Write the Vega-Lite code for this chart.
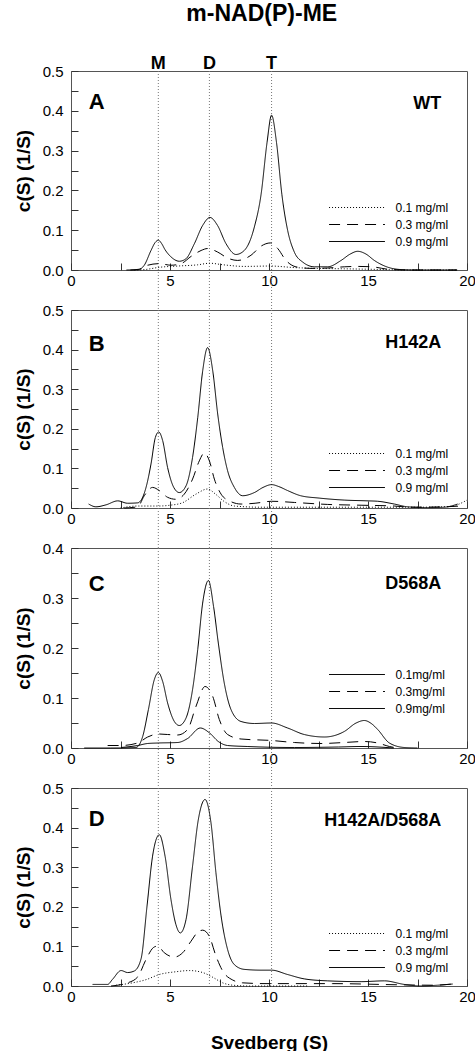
{
  "$schema": "https://vega.github.io/schema/vega-lite/v6.json",
  "padding": {"left": 13, "top": 2, "right": 0, "bottom": 0},
  "bounds": "flush",
  "spacing": 40,
  "title": {"text": "m-NAD(P)-ME", "fontSize": 23, "fontWeight": "bold", "font": "Liberation Sans", "color": "black", "anchor": "middle", "frame": "bounds", "offset": 29, "dx": 17},
  "config": {
    "font": "Liberation Sans",
    "view": {"stroke": "#555", "strokeWidth": 1},
    "axis": {"grid": false, "domain": false, "tickColor": "#333", "tickSize": -7, "labelFontSize": 15, "labelColor": "black", "labelFont": "Liberation Sans", "titleFontSize": 19, "titleFontWeight": "bold", "titleColor": "black", "titleFont": "Liberation Sans", "labelFlush": false, "labelOverlap": false},
    "axisX": {"labelPadding": 10, "titlePadding": 29},
    "axisY": {"labelPadding": 15, "titlePadding": 9},
    "legend": {"title": null, "orient": "none", "symbolType": "M-5,0H5", "symbolSize": 125, "symbolOffset": 21.5, "symbolStrokeWidth": 1, "symbolStrokeColor": "black", "labelFontSize": 12, "labelFont": "Liberation Sans", "labelColor": "black", "labelOffset": 32, "rowPadding": 4, "padding": 0, "legendX": 258}
  },
  "datasets": {
    "markers": [{"s": 4.41, "lab": "M"}, {"s": 6.99, "lab": "D"}, {"s": 10.13, "lab": "T"}],
    "curves": [
      {"p":"A","c":"0.9 mg/ml","s":2.8,"v":0},{"p":"A","c":"0.9 mg/ml","s":3.4,"v":0.001},{"p":"A","c":"0.9 mg/ml","s":3.7,"v":0.012},{"p":"A","c":"0.9 mg/ml","s":4.04,"v":0.049},{"p":"A","c":"0.9 mg/ml","s":4.25,"v":0.069},{"p":"A","c":"0.9 mg/ml","s":4.41,"v":0.075},{"p":"A","c":"0.9 mg/ml","s":4.57,"v":0.067},{"p":"A","c":"0.9 mg/ml","s":4.75,"v":0.051},{"p":"A","c":"0.9 mg/ml","s":5.05,"v":0.033},{"p":"A","c":"0.9 mg/ml","s":5.47,"v":0.022},{"p":"A","c":"0.9 mg/ml","s":5.8,"v":0.028},{"p":"A","c":"0.9 mg/ml","s":6.23,"v":0.066},{"p":"A","c":"0.9 mg/ml","s":6.65,"v":0.112},{"p":"A","c":"0.9 mg/ml","s":7.02,"v":0.132},{"p":"A","c":"0.9 mg/ml","s":7.4,"v":0.112},{"p":"A","c":"0.9 mg/ml","s":7.83,"v":0.066},{"p":"A","c":"0.9 mg/ml","s":8.33,"v":0.039},{"p":"A","c":"0.9 mg/ml","s":8.75,"v":0.049},{"p":"A","c":"0.9 mg/ml","s":9.26,"v":0.108},{"p":"A","c":"0.9 mg/ml","s":9.6,"v":0.19},{"p":"A","c":"0.9 mg/ml","s":9.9,"v":0.32},{"p":"A","c":"0.9 mg/ml","s":10.13,"v":0.389},{"p":"A","c":"0.9 mg/ml","s":10.38,"v":0.32},{"p":"A","c":"0.9 mg/ml","s":10.65,"v":0.19},{"p":"A","c":"0.9 mg/ml","s":10.94,"v":0.1},{"p":"A","c":"0.9 mg/ml","s":11.28,"v":0.045},{"p":"A","c":"0.9 mg/ml","s":11.7,"v":0.02},{"p":"A","c":"0.9 mg/ml","s":12.3,"v":0.008},{"p":"A","c":"0.9 mg/ml","s":12.96,"v":0.008},{"p":"A","c":"0.9 mg/ml","s":13.64,"v":0.024},{"p":"A","c":"0.9 mg/ml","s":14.1,"v":0.04},{"p":"A","c":"0.9 mg/ml","s":14.48,"v":0.047},{"p":"A","c":"0.9 mg/ml","s":14.9,"v":0.04},{"p":"A","c":"0.9 mg/ml","s":15.32,"v":0.024},{"p":"A","c":"0.9 mg/ml","s":16,"v":0.007},{"p":"A","c":"0.9 mg/ml","s":16.7,"v":0.001},{"p":"A","c":"0.9 mg/ml","s":17.5,"v":0},{"p":"A","c":"0.9 mg/ml","s":19.5,"v":0},
      {"p":"A","c":"0.3 mg/ml","s":3.0,"v":0},{"p":"A","c":"0.3 mg/ml","s":3.45,"v":0.002},{"p":"A","c":"0.3 mg/ml","s":3.87,"v":0.012},{"p":"A","c":"0.3 mg/ml","s":4.46,"v":0.016},{"p":"A","c":"0.3 mg/ml","s":5.05,"v":0.012},{"p":"A","c":"0.3 mg/ml","s":5.56,"v":0.016},{"p":"A","c":"0.3 mg/ml","s":6.06,"v":0.034},{"p":"A","c":"0.3 mg/ml","s":6.57,"v":0.049},{"p":"A","c":"0.3 mg/ml","s":6.9,"v":0.054},{"p":"A","c":"0.3 mg/ml","s":7.41,"v":0.045},{"p":"A","c":"0.3 mg/ml","s":7.91,"v":0.03},{"p":"A","c":"0.3 mg/ml","s":8.42,"v":0.024},{"p":"A","c":"0.3 mg/ml","s":9.09,"v":0.037},{"p":"A","c":"0.3 mg/ml","s":9.6,"v":0.06},{"p":"A","c":"0.3 mg/ml","s":10.07,"v":0.068},{"p":"A","c":"0.3 mg/ml","s":10.44,"v":0.054},{"p":"A","c":"0.3 mg/ml","s":10.86,"v":0.024},{"p":"A","c":"0.3 mg/ml","s":11.36,"v":0.008},{"p":"A","c":"0.3 mg/ml","s":12.12,"v":0.004},{"p":"A","c":"0.3 mg/ml","s":12.96,"v":0.005},{"p":"A","c":"0.3 mg/ml","s":13.8,"v":0.008},{"p":"A","c":"0.3 mg/ml","s":14.5,"v":0.009},{"p":"A","c":"0.3 mg/ml","s":15.2,"v":0.008},{"p":"A","c":"0.3 mg/ml","s":16.0,"v":0.002},{"p":"A","c":"0.3 mg/ml","s":17,"v":0},{"p":"A","c":"0.3 mg/ml","s":19.5,"v":0},
      {"p":"A","c":"0.1 mg/ml","s":3.2,"v":0},{"p":"A","c":"0.1 mg/ml","s":3.7,"v":0.001},{"p":"A","c":"0.1 mg/ml","s":4.5,"v":0.007},{"p":"A","c":"0.1 mg/ml","s":5.4,"v":0.01},{"p":"A","c":"0.1 mg/ml","s":6.4,"v":0.013},{"p":"A","c":"0.1 mg/ml","s":7.0,"v":0.017},{"p":"A","c":"0.1 mg/ml","s":7.7,"v":0.013},{"p":"A","c":"0.1 mg/ml","s":8.75,"v":0.009},{"p":"A","c":"0.1 mg/ml","s":10.07,"v":0.01},{"p":"A","c":"0.1 mg/ml","s":11.3,"v":0.006},{"p":"A","c":"0.1 mg/ml","s":12.5,"v":0.004},{"p":"A","c":"0.1 mg/ml","s":13.8,"v":0.003},{"p":"A","c":"0.1 mg/ml","s":15,"v":0.002},{"p":"A","c":"0.1 mg/ml","s":17.2,"v":0},{"p":"A","c":"0.1 mg/ml","s":19.5,"v":0},
      {"p":"B","c":"0.9 mg/ml","s":0.89,"v":0.01},{"p":"B","c":"0.9 mg/ml","s":1.26,"v":0.003},{"p":"B","c":"0.9 mg/ml","s":1.77,"v":0.008},{"p":"B","c":"0.9 mg/ml","s":2.36,"v":0.018},{"p":"B","c":"0.9 mg/ml","s":2.86,"v":0.012},{"p":"B","c":"0.9 mg/ml","s":3.37,"v":0.013},{"p":"B","c":"0.9 mg/ml","s":3.79,"v":0.052},{"p":"B","c":"0.9 mg/ml","s":4.04,"v":0.111},{"p":"B","c":"0.9 mg/ml","s":4.26,"v":0.178},{"p":"B","c":"0.9 mg/ml","s":4.43,"v":0.192},{"p":"B","c":"0.9 mg/ml","s":4.63,"v":0.17},{"p":"B","c":"0.9 mg/ml","s":4.88,"v":0.102},{"p":"B","c":"0.9 mg/ml","s":5.19,"v":0.052},{"p":"B","c":"0.9 mg/ml","s":5.47,"v":0.039},{"p":"B","c":"0.9 mg/ml","s":5.81,"v":0.056},{"p":"B","c":"0.9 mg/ml","s":6.14,"v":0.128},{"p":"B","c":"0.9 mg/ml","s":6.4,"v":0.228},{"p":"B","c":"0.9 mg/ml","s":6.65,"v":0.346},{"p":"B","c":"0.9 mg/ml","s":6.9,"v":0.405},{"p":"B","c":"0.9 mg/ml","s":7.16,"v":0.346},{"p":"B","c":"0.9 mg/ml","s":7.41,"v":0.237},{"p":"B","c":"0.9 mg/ml","s":7.66,"v":0.153},{"p":"B","c":"0.9 mg/ml","s":7.91,"v":0.094},{"p":"B","c":"0.9 mg/ml","s":8.25,"v":0.052},{"p":"B","c":"0.9 mg/ml","s":8.67,"v":0.031},{"p":"B","c":"0.9 mg/ml","s":9.26,"v":0.039},{"p":"B","c":"0.9 mg/ml","s":9.7,"v":0.052},{"p":"B","c":"0.9 mg/ml","s":10.13,"v":0.059},{"p":"B","c":"0.9 mg/ml","s":10.5,"v":0.054},{"p":"B","c":"0.9 mg/ml","s":10.94,"v":0.044},{"p":"B","c":"0.9 mg/ml","s":11.6,"v":0.031},{"p":"B","c":"0.9 mg/ml","s":12.54,"v":0.025},{"p":"B","c":"0.9 mg/ml","s":13.8,"v":0.02},{"p":"B","c":"0.9 mg/ml","s":15.0,"v":0.018},{"p":"B","c":"0.9 mg/ml","s":15.49,"v":0.017},{"p":"B","c":"0.9 mg/ml","s":16.33,"v":0.01},{"p":"B","c":"0.9 mg/ml","s":17.0,"v":0.003},{"p":"B","c":"0.9 mg/ml","s":18.0,"v":0.001},{"p":"B","c":"0.9 mg/ml","s":18.85,"v":0.002},{"p":"B","c":"0.9 mg/ml","s":19.53,"v":0.01},
      {"p":"B","c":"0.3 mg/ml","s":2.69,"v":0},{"p":"B","c":"0.3 mg/ml","s":3.37,"v":0.003},{"p":"B","c":"0.3 mg/ml","s":3.7,"v":0.031},{"p":"B","c":"0.3 mg/ml","s":4.12,"v":0.052},{"p":"B","c":"0.3 mg/ml","s":4.46,"v":0.044},{"p":"B","c":"0.3 mg/ml","s":4.88,"v":0.027},{"p":"B","c":"0.3 mg/ml","s":5.3,"v":0.022},{"p":"B","c":"0.3 mg/ml","s":5.72,"v":0.035},{"p":"B","c":"0.3 mg/ml","s":6.14,"v":0.073},{"p":"B","c":"0.3 mg/ml","s":6.48,"v":0.119},{"p":"B","c":"0.3 mg/ml","s":6.73,"v":0.139},{"p":"B","c":"0.3 mg/ml","s":6.99,"v":0.119},{"p":"B","c":"0.3 mg/ml","s":7.24,"v":0.073},{"p":"B","c":"0.3 mg/ml","s":7.58,"v":0.035},{"p":"B","c":"0.3 mg/ml","s":8.0,"v":0.018},{"p":"B","c":"0.3 mg/ml","s":8.59,"v":0.01},{"p":"B","c":"0.3 mg/ml","s":9.3,"v":0.012},{"p":"B","c":"0.3 mg/ml","s":10.13,"v":0.017},{"p":"B","c":"0.3 mg/ml","s":11.28,"v":0.014},{"p":"B","c":"0.3 mg/ml","s":12.96,"v":0.009},{"p":"B","c":"0.3 mg/ml","s":14.65,"v":0.007},{"p":"B","c":"0.3 mg/ml","s":16.33,"v":0.005},{"p":"B","c":"0.3 mg/ml","s":17.17,"v":0.002},{"p":"B","c":"0.3 mg/ml","s":18.85,"v":0.003},{"p":"B","c":"0.3 mg/ml","s":19.7,"v":0.005},
      {"p":"B","c":"0.1 mg/ml","s":2.5,"v":0},{"p":"B","c":"0.1 mg/ml","s":3.37,"v":0.005},{"p":"B","c":"0.1 mg/ml","s":4.4,"v":0.005},{"p":"B","c":"0.1 mg/ml","s":5.0,"v":0.007},{"p":"B","c":"0.1 mg/ml","s":5.62,"v":0.013},{"p":"B","c":"0.1 mg/ml","s":6.31,"v":0.035},{"p":"B","c":"0.1 mg/ml","s":6.9,"v":0.048},{"p":"B","c":"0.1 mg/ml","s":7.3,"v":0.035},{"p":"B","c":"0.1 mg/ml","s":7.75,"v":0.016},{"p":"B","c":"0.1 mg/ml","s":8.25,"v":0.005},{"p":"B","c":"0.1 mg/ml","s":9.6,"v":0.002},{"p":"B","c":"0.1 mg/ml","s":12,"v":0.002},{"p":"B","c":"0.1 mg/ml","s":15,"v":0.002},{"p":"B","c":"0.1 mg/ml","s":17.5,"v":0.002},{"p":"B","c":"0.1 mg/ml","s":19.2,"v":0.004},{"p":"B","c":"0.1 mg/ml","s":19.6,"v":0.01},{"p":"B","c":"0.1 mg/ml","s":20,"v":0.02},
      {"p":"C","c":"0.9mg/ml","s":0.67,"v":0},{"p":"C","c":"0.9mg/ml","s":2,"v":0},{"p":"C","c":"0.9mg/ml","s":3.28,"v":0.001},{"p":"C","c":"0.9mg/ml","s":3.62,"v":0.023},{"p":"C","c":"0.9mg/ml","s":3.91,"v":0.077},{"p":"C","c":"0.9mg/ml","s":4.21,"v":0.137},{"p":"C","c":"0.9mg/ml","s":4.41,"v":0.151},{"p":"C","c":"0.9mg/ml","s":4.63,"v":0.133},{"p":"C","c":"0.9mg/ml","s":4.88,"v":0.09},{"p":"C","c":"0.9mg/ml","s":5.22,"v":0.053},{"p":"C","c":"0.9mg/ml","s":5.47,"v":0.045},{"p":"C","c":"0.9mg/ml","s":5.81,"v":0.06},{"p":"C","c":"0.9mg/ml","s":6.14,"v":0.117},{"p":"C","c":"0.9mg/ml","s":6.4,"v":0.197},{"p":"C","c":"0.9mg/ml","s":6.65,"v":0.29},{"p":"C","c":"0.9mg/ml","s":6.94,"v":0.335},{"p":"C","c":"0.9mg/ml","s":7.2,"v":0.283},{"p":"C","c":"0.9mg/ml","s":7.44,"v":0.21},{"p":"C","c":"0.9mg/ml","s":7.74,"v":0.13},{"p":"C","c":"0.9mg/ml","s":8.08,"v":0.077},{"p":"C","c":"0.9mg/ml","s":8.59,"v":0.053},{"p":"C","c":"0.9mg/ml","s":9.26,"v":0.049},{"p":"C","c":"0.9mg/ml","s":10.13,"v":0.05},{"p":"C","c":"0.9mg/ml","s":10.94,"v":0.04},{"p":"C","c":"0.9mg/ml","s":11.78,"v":0.027},{"p":"C","c":"0.9mg/ml","s":12.8,"v":0.022},{"p":"C","c":"0.9mg/ml","s":13.8,"v":0.033},{"p":"C","c":"0.9mg/ml","s":14.4,"v":0.05},{"p":"C","c":"0.9mg/ml","s":14.81,"v":0.055},{"p":"C","c":"0.9mg/ml","s":15.2,"v":0.048},{"p":"C","c":"0.9mg/ml","s":15.49,"v":0.037},{"p":"C","c":"0.9mg/ml","s":16.08,"v":0.01},{"p":"C","c":"0.9mg/ml","s":16.83,"v":0.001},{"p":"C","c":"0.9mg/ml","s":17.5,"v":0},
      {"p":"C","c":"0.3mg/ml","s":1.85,"v":0.005},{"p":"C","c":"0.3mg/ml","s":2.53,"v":0.005},{"p":"C","c":"0.3mg/ml","s":3.37,"v":0.01},{"p":"C","c":"0.3mg/ml","s":3.87,"v":0.022},{"p":"C","c":"0.3mg/ml","s":4.41,"v":0.028},{"p":"C","c":"0.3mg/ml","s":4.88,"v":0.027},{"p":"C","c":"0.3mg/ml","s":5.39,"v":0.026},{"p":"C","c":"0.3mg/ml","s":5.89,"v":0.037},{"p":"C","c":"0.3mg/ml","s":6.31,"v":0.083},{"p":"C","c":"0.3mg/ml","s":6.77,"v":0.123},{"p":"C","c":"0.3mg/ml","s":7.16,"v":0.103},{"p":"C","c":"0.3mg/ml","s":7.49,"v":0.057},{"p":"C","c":"0.3mg/ml","s":7.91,"v":0.027},{"p":"C","c":"0.3mg/ml","s":8.59,"v":0.018},{"p":"C","c":"0.3mg/ml","s":10.13,"v":0.015},{"p":"C","c":"0.3mg/ml","s":11.28,"v":0.011},{"p":"C","c":"0.3mg/ml","s":12.63,"v":0.009},{"p":"C","c":"0.3mg/ml","s":13.8,"v":0.011},{"p":"C","c":"0.3mg/ml","s":14.81,"v":0.013},{"p":"C","c":"0.3mg/ml","s":15.49,"v":0.01},{"p":"C","c":"0.3mg/ml","s":16.08,"v":0.003},{"p":"C","c":"0.3mg/ml","s":16.5,"v":0},
      {"p":"C","c":"0.1mg/ml","s":2.53,"v":0.001},{"p":"C","c":"0.1mg/ml","s":3.37,"v":0.005},{"p":"C","c":"0.1mg/ml","s":3.87,"v":0.009},{"p":"C","c":"0.1mg/ml","s":4.41,"v":0.01},{"p":"C","c":"0.1mg/ml","s":5.39,"v":0.011},{"p":"C","c":"0.1mg/ml","s":5.89,"v":0.019},{"p":"C","c":"0.1mg/ml","s":6.53,"v":0.04},{"p":"C","c":"0.1mg/ml","s":7.0,"v":0.03},{"p":"C","c":"0.1mg/ml","s":7.44,"v":0.013},{"p":"C","c":"0.1mg/ml","s":7.91,"v":0.005},{"p":"C","c":"0.1mg/ml","s":8.9,"v":0.003},{"p":"C","c":"0.1mg/ml","s":11.28,"v":0.001},{"p":"C","c":"0.1mg/ml","s":13.5,"v":0.002},{"p":"C","c":"0.1mg/ml","s":14.65,"v":0.003},{"p":"C","c":"0.1mg/ml","s":16.3,"v":0},
      {"p":"D","c":"0.9 mg/ml","s":1.09,"v":0.004},{"p":"D","c":"0.9 mg/ml","s":1.85,"v":0.004},{"p":"D","c":"0.9 mg/ml","s":2.1,"v":0.017},{"p":"D","c":"0.9 mg/ml","s":2.53,"v":0.039},{"p":"D","c":"0.9 mg/ml","s":2.86,"v":0.034},{"p":"D","c":"0.9 mg/ml","s":3.2,"v":0.038},{"p":"D","c":"0.9 mg/ml","s":3.54,"v":0.069},{"p":"D","c":"0.9 mg/ml","s":3.84,"v":0.202},{"p":"D","c":"0.9 mg/ml","s":4.12,"v":0.328},{"p":"D","c":"0.9 mg/ml","s":4.46,"v":0.382},{"p":"D","c":"0.9 mg/ml","s":4.75,"v":0.328},{"p":"D","c":"0.9 mg/ml","s":5.05,"v":0.218},{"p":"D","c":"0.9 mg/ml","s":5.3,"v":0.155},{"p":"D","c":"0.9 mg/ml","s":5.52,"v":0.134},{"p":"D","c":"0.9 mg/ml","s":5.81,"v":0.168},{"p":"D","c":"0.9 mg/ml","s":6.14,"v":0.303},{"p":"D","c":"0.9 mg/ml","s":6.43,"v":0.42},{"p":"D","c":"0.9 mg/ml","s":6.77,"v":0.471},{"p":"D","c":"0.9 mg/ml","s":7.07,"v":0.412},{"p":"D","c":"0.9 mg/ml","s":7.32,"v":0.286},{"p":"D","c":"0.9 mg/ml","s":7.58,"v":0.177},{"p":"D","c":"0.9 mg/ml","s":7.91,"v":0.092},{"p":"D","c":"0.9 mg/ml","s":8.25,"v":0.054},{"p":"D","c":"0.9 mg/ml","s":8.75,"v":0.042},{"p":"D","c":"0.9 mg/ml","s":9.6,"v":0.04},{"p":"D","c":"0.9 mg/ml","s":10.13,"v":0.04},{"p":"D","c":"0.9 mg/ml","s":10.94,"v":0.029},{"p":"D","c":"0.9 mg/ml","s":11.78,"v":0.018},{"p":"D","c":"0.9 mg/ml","s":12.96,"v":0.013},{"p":"D","c":"0.9 mg/ml","s":14.65,"v":0.011},{"p":"D","c":"0.9 mg/ml","s":15.83,"v":0.013},{"p":"D","c":"0.9 mg/ml","s":16.83,"v":0.004},{"p":"D","c":"0.9 mg/ml","s":17.68,"v":0},{"p":"D","c":"0.9 mg/ml","s":18.52,"v":0.002},{"p":"D","c":"0.9 mg/ml","s":19.28,"v":0.005},
      {"p":"D","c":"0.3 mg/ml","s":2.02,"v":0},{"p":"D","c":"0.3 mg/ml","s":2.86,"v":0.008},{"p":"D","c":"0.3 mg/ml","s":3.37,"v":0.023},{"p":"D","c":"0.3 mg/ml","s":3.79,"v":0.067},{"p":"D","c":"0.3 mg/ml","s":4.16,"v":0.097},{"p":"D","c":"0.3 mg/ml","s":4.38,"v":0.101},{"p":"D","c":"0.3 mg/ml","s":4.71,"v":0.084},{"p":"D","c":"0.3 mg/ml","s":5.22,"v":0.073},{"p":"D","c":"0.3 mg/ml","s":5.64,"v":0.084},{"p":"D","c":"0.3 mg/ml","s":6.06,"v":0.113},{"p":"D","c":"0.3 mg/ml","s":6.4,"v":0.136},{"p":"D","c":"0.3 mg/ml","s":6.65,"v":0.141},{"p":"D","c":"0.3 mg/ml","s":6.98,"v":0.126},{"p":"D","c":"0.3 mg/ml","s":7.32,"v":0.076},{"p":"D","c":"0.3 mg/ml","s":7.66,"v":0.038},{"p":"D","c":"0.3 mg/ml","s":8.17,"v":0.015},{"p":"D","c":"0.3 mg/ml","s":8.67,"v":0.008},{"p":"D","c":"0.3 mg/ml","s":9.85,"v":0.006},{"p":"D","c":"0.3 mg/ml","s":13.2,"v":0.006},{"p":"D","c":"0.3 mg/ml","s":16.6,"v":0.003},{"p":"D","c":"0.3 mg/ml","s":18.27,"v":0.002},{"p":"D","c":"0.3 mg/ml","s":19.28,"v":0.005},
      {"p":"D","c":"0.1 mg/ml","s":2.27,"v":0.002},{"p":"D","c":"0.1 mg/ml","s":3.11,"v":0.008},{"p":"D","c":"0.1 mg/ml","s":3.79,"v":0.016},{"p":"D","c":"0.1 mg/ml","s":4.46,"v":0.029},{"p":"D","c":"0.1 mg/ml","s":5.3,"v":0.036},{"p":"D","c":"0.1 mg/ml","s":5.98,"v":0.039},{"p":"D","c":"0.1 mg/ml","s":6.65,"v":0.034},{"p":"D","c":"0.1 mg/ml","s":7.16,"v":0.022},{"p":"D","c":"0.1 mg/ml","s":7.66,"v":0.008},{"p":"D","c":"0.1 mg/ml","s":8.17,"v":0.002},{"p":"D","c":"0.1 mg/ml","s":9,"v":0},{"p":"D","c":"0.1 mg/ml","s":12,"v":0}
    ]
  },
  "resolve": {"scale": {"x": "independent", "y": "independent", "strokeDash": "independent"}, "legend": {"strokeDash": "independent"}},
  "vconcat": [
    {
      "width": 396, "height": 199,
      "resolve": {"axis": {"y": "independent"}},
      "layer": [
        {
          "data": {"name": "markers"},
          "mark": {"type": "rule", "color": "#777", "strokeDash": [1, 2], "strokeWidth": 1, "clip": false},
          "encoding": {
            "x": {"field": "s", "type": "quantitative", "scale": {"domain": [0, 20], "nice": false}, "axis": {"title": null, "values": [0, 2.5, 5, 7.5, 10, 12.5, 15, 17.5, 20], "labelExpr": "datum.value % 5 == 0 ? format(datum.value, 'd') : ''"}},
            "y": {"datum": 0.5, "type": "quantitative", "scale": {"domain": [0, 0.5], "nice": false}, "axis": {"orient": "left", "title": null, "labels": false, "values": [0.05, 0.15, 0.25, 0.35, 0.45]}},
            "y2": {"datum": -0.1005}
          }
        },
        {
          "data": {"name": "curves"},
          "transform": [{"filter": "datum.p == 'A'"}],
          "mark": {"type": "line", "interpolate": "monotone", "color": "black", "strokeWidth": 1},
          "encoding": {
            "x": {"field": "s", "type": "quantitative", "scale": {"domain": [0, 20], "nice": false}, "axis": {"title": null, "values": [0, 2.5, 5, 7.5, 10, 12.5, 15, 17.5, 20], "labelExpr": "datum.value % 5 == 0 ? format(datum.value, 'd') : ''"}},
            "y": {"field": "v", "type": "quantitative", "scale": {"domain": [0, 0.5], "nice": false}, "axis": {"orient": "left", "title": "c(S) (1/S)", "values": [0, 0.1, 0.2, 0.3, 0.4, 0.5], "format": ".1f"}},
            "strokeDash": {"field": "c", "type": "nominal", "scale": {"domain": ["0.1 mg/ml", "0.3 mg/ml", "0.9 mg/ml"], "range": [[1, 2], [11, 7], [1, 0]]}, "legend": {"legendY": 130}}
          }
        },
        {
          "data": {"name": "markers"},
          "mark": {"type": "text", "fontSize": 18, "fontWeight": "bold", "align": "center", "baseline": "alphabetic", "color": "black"},
          "encoding": {"x": {"field": "s", "type": "quantitative"}, "y": {"datum": 0.505, "axis": null}, "text": {"field": "lab"}}
        },
        {
          "data": {"values": [{"t": "A"}]},
          "mark": {"type": "text", "fontSize": 22, "fontWeight": "bold", "align": "left", "baseline": "alphabetic", "color": "black"},
          "encoding": {"x": {"datum": 0.9}, "y": {"datum": 0.405, "axis": null}, "text": {"field": "t"}}
        },
        {
          "data": {"values": [{"t": "WT"}]},
          "mark": {"type": "text", "fontSize": 18, "fontWeight": "bold", "align": "right", "baseline": "alphabetic", "color": "black"},
          "encoding": {"x": {"datum": 18.7}, "y": {"datum": 0.405, "axis": null}, "text": {"field": "t"}}
        }
      ]
    },
    {
      "width": 396, "height": 198,
      "resolve": {"axis": {"y": "independent"}},
      "layer": [
        {
          "data": {"name": "markers"},
          "mark": {"type": "rule", "color": "#777", "strokeDash": [1, 2], "strokeWidth": 1, "clip": false},
          "encoding": {
            "x": {"field": "s", "type": "quantitative", "scale": {"domain": [0, 20], "nice": false}, "axis": {"title": null, "values": [0, 2.5, 5, 7.5, 10, 12.5, 15, 17.5, 20], "labelExpr": "datum.value % 5 == 0 ? format(datum.value, 'd') : ''"}},
            "y": {"datum": 0.5, "type": "quantitative", "scale": {"domain": [0, 0.5], "nice": false}, "axis": {"orient": "left", "title": null, "labels": false, "values": [0.05, 0.15, 0.25, 0.35, 0.45]}},
            "y2": {"datum": -0.101}
          }
        },
        {
          "data": {"name": "curves"},
          "transform": [{"filter": "datum.p == 'B'"}],
          "mark": {"type": "line", "interpolate": "monotone", "color": "black", "strokeWidth": 1},
          "encoding": {
            "x": {"field": "s", "type": "quantitative", "scale": {"domain": [0, 20], "nice": false}, "axis": {"title": null, "values": [0, 2.5, 5, 7.5, 10, 12.5, 15, 17.5, 20], "labelExpr": "datum.value % 5 == 0 ? format(datum.value, 'd') : ''"}},
            "y": {"field": "v", "type": "quantitative", "scale": {"domain": [0, 0.5], "nice": false}, "axis": {"orient": "left", "title": "c(S) (1/S)", "values": [0, 0.1, 0.2, 0.3, 0.4, 0.5], "format": ".1f"}},
            "strokeDash": {"field": "c", "type": "nominal", "scale": {"domain": ["0.1 mg/ml", "0.3 mg/ml", "0.9 mg/ml"], "range": [[1, 2], [11, 7], [1, 0]]}, "legend": {"legendY": 137}}
          }
        },
        {
          "data": {"values": [{"t": "B"}]},
          "mark": {"type": "text", "fontSize": 22, "fontWeight": "bold", "align": "left", "baseline": "alphabetic", "color": "black"},
          "encoding": {"x": {"datum": 0.9}, "y": {"datum": 0.397, "axis": null}, "text": {"field": "t"}}
        },
        {
          "data": {"values": [{"t": "H142A"}]},
          "mark": {"type": "text", "fontSize": 18, "fontWeight": "bold", "align": "right", "baseline": "alphabetic", "color": "black"},
          "encoding": {"x": {"datum": 18.7}, "y": {"datum": 0.405, "axis": null}, "text": {"field": "t"}}
        }
      ]
    },
    {
      "width": 396, "height": 200,
      "resolve": {"axis": {"y": "independent"}},
      "layer": [
        {
          "data": {"name": "markers"},
          "mark": {"type": "rule", "color": "#777", "strokeDash": [1, 2], "strokeWidth": 1, "clip": false},
          "encoding": {
            "x": {"field": "s", "type": "quantitative", "scale": {"domain": [0, 20], "nice": false}, "axis": {"title": null, "values": [0, 2.5, 5, 7.5, 10, 12.5, 15, 17.5, 20], "labelExpr": "datum.value % 5 == 0 ? format(datum.value, 'd') : ''"}},
            "y": {"datum": 0.4, "type": "quantitative", "scale": {"domain": [0, 0.4], "nice": false}, "axis": {"orient": "left", "title": null, "labels": false, "values": [0.05, 0.15, 0.25, 0.35]}},
            "y2": {"datum": -0.08}
          }
        },
        {
          "data": {"name": "curves"},
          "transform": [{"filter": "datum.p == 'C'"}],
          "mark": {"type": "line", "interpolate": "monotone", "color": "black", "strokeWidth": 1},
          "encoding": {
            "x": {"field": "s", "type": "quantitative", "scale": {"domain": [0, 20], "nice": false}, "axis": {"title": null, "values": [0, 2.5, 5, 7.5, 10, 12.5, 15, 17.5, 20], "labelExpr": "datum.value % 5 == 0 ? format(datum.value, 'd') : ''"}},
            "y": {"field": "v", "type": "quantitative", "scale": {"domain": [0, 0.4], "nice": false}, "axis": {"orient": "left", "title": "c(S) (1/S)", "values": [0, 0.1, 0.2, 0.3, 0.4], "format": ".1f"}},
            "strokeDash": {"field": "c", "type": "nominal", "scale": {"domain": ["0.1mg/ml", "0.3mg/ml", "0.9mg/ml"], "range": [[1, 0], [11, 7], [1, 0]]}, "legend": {"legendY": 120}}
          }
        },
        {
          "data": {"values": [{"t": "C"}]},
          "mark": {"type": "text", "fontSize": 22, "fontWeight": "bold", "align": "left", "baseline": "alphabetic", "color": "black"},
          "encoding": {"x": {"datum": 0.9}, "y": {"datum": 0.314, "axis": null}, "text": {"field": "t"}}
        },
        {
          "data": {"values": [{"t": "D568A"}]},
          "mark": {"type": "text", "fontSize": 18, "fontWeight": "bold", "align": "right", "baseline": "alphabetic", "color": "black"},
          "encoding": {"x": {"datum": 18.7}, "y": {"datum": 0.319, "axis": null}, "text": {"field": "t"}}
        }
      ]
    },
    {
      "width": 396, "height": 198,
      "resolve": {"axis": {"y": "independent"}},
      "layer": [
        {
          "data": {"name": "markers"},
          "mark": {"type": "rule", "color": "#777", "strokeDash": [1, 2], "strokeWidth": 1, "clip": false},
          "encoding": {
            "x": {"field": "s", "type": "quantitative", "scale": {"domain": [0, 20], "nice": false}, "axis": {"title": "Svedberg (S)", "values": [0, 2.5, 5, 7.5, 10, 12.5, 15, 17.5, 20], "labelExpr": "datum.value % 5 == 0 ? format(datum.value, 'd') : ''"}},
            "y": {"datum": 0.5, "type": "quantitative", "scale": {"domain": [0, 0.5], "nice": false}, "axis": {"orient": "left", "title": null, "labels": false, "values": [0.05, 0.15, 0.25, 0.35, 0.45]}},
            "y2": {"datum": 0}
          }
        },
        {
          "data": {"name": "curves"},
          "transform": [{"filter": "datum.p == 'D'"}],
          "mark": {"type": "line", "interpolate": "monotone", "color": "black", "strokeWidth": 1},
          "encoding": {
            "x": {"field": "s", "type": "quantitative", "scale": {"domain": [0, 20], "nice": false}, "axis": {"title": "Svedberg (S)", "values": [0, 2.5, 5, 7.5, 10, 12.5, 15, 17.5, 20], "labelExpr": "datum.value % 5 == 0 ? format(datum.value, 'd') : ''"}},
            "y": {"field": "v", "type": "quantitative", "scale": {"domain": [0, 0.5], "nice": false}, "axis": {"orient": "left", "title": "c(S) (1/S)", "values": [0, 0.1, 0.2, 0.3, 0.4, 0.5], "format": ".1f"}},
            "strokeDash": {"field": "c", "type": "nominal", "scale": {"domain": ["0.1 mg/ml", "0.3 mg/ml", "0.9 mg/ml"], "range": [[1, 2], [11, 7], [1, 0]]}, "legend": {"legendY": 139}}
          }
        },
        {
          "data": {"values": [{"t": "D"}]},
          "mark": {"type": "text", "fontSize": 22, "fontWeight": "bold", "align": "left", "baseline": "alphabetic", "color": "black"},
          "encoding": {"x": {"datum": 0.9}, "y": {"datum": 0.403, "axis": null}, "text": {"field": "t"}}
        },
        {
          "data": {"values": [{"t": "H142A/D568A"}]},
          "mark": {"type": "text", "fontSize": 18, "fontWeight": "bold", "align": "right", "baseline": "alphabetic", "color": "black"},
          "encoding": {"x": {"datum": 18.7}, "y": {"datum": 0.405, "axis": null}, "text": {"field": "t"}}
        }
      ]
    }
  ]
}
